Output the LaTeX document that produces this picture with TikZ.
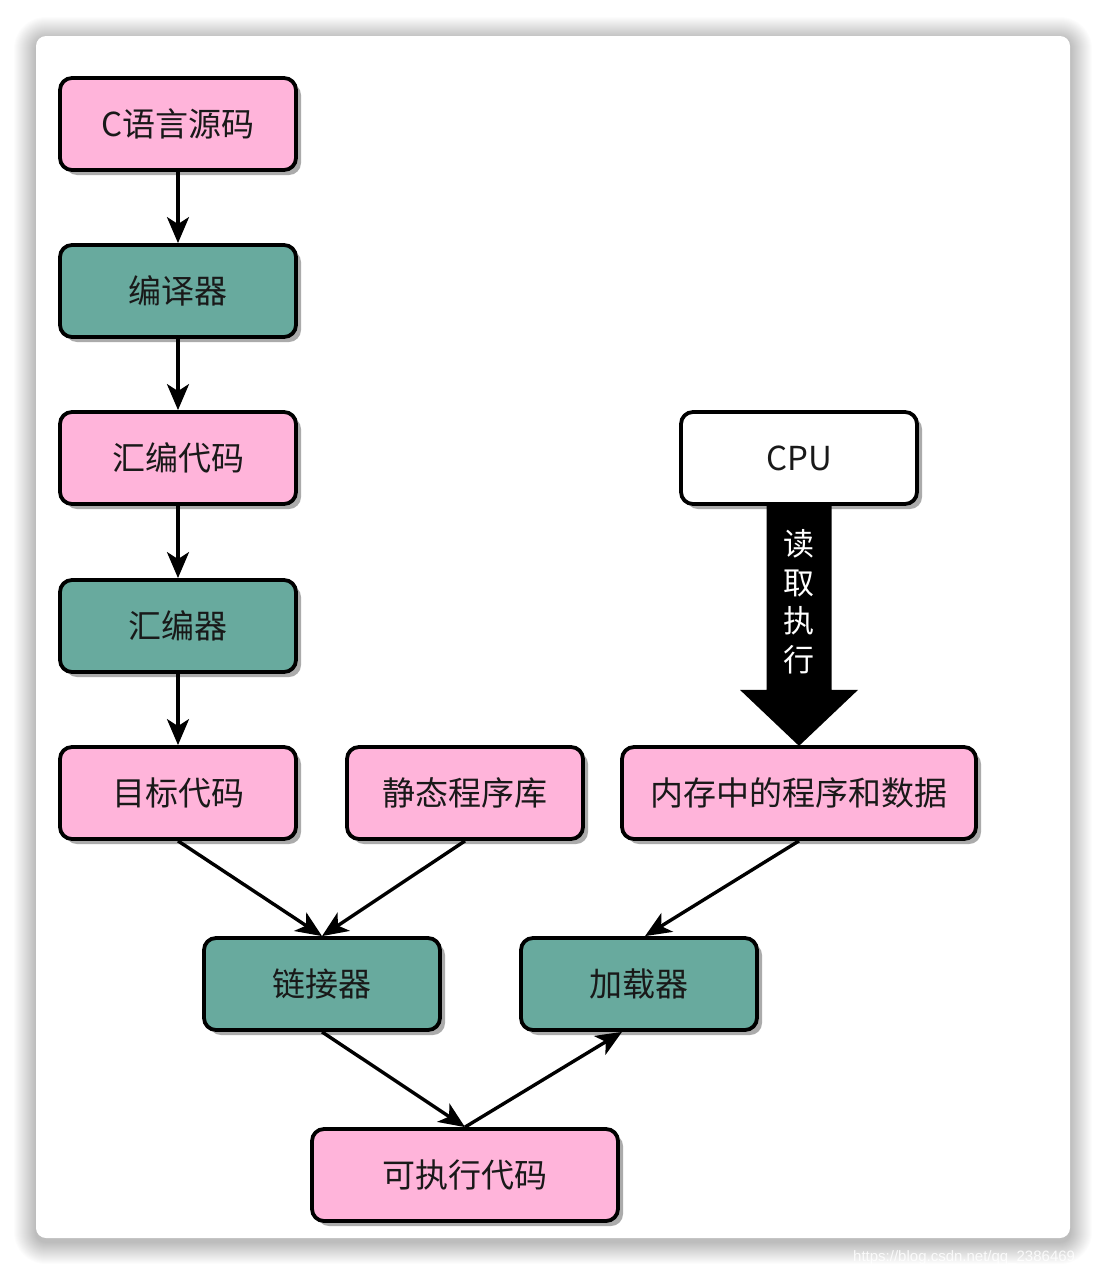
\documentclass[tikz,border=0pt]{standalone}
\usepackage{fontspec}
\setmainfont{Noto Sans CJK SC}
\newfontfamily\wmfont{Liberation Sans}
\usetikzlibrary{arrows.meta,calc,shadows}
\definecolor{pinkbox}{RGB}{255,180,218}
\definecolor{tealbox}{RGB}{104,170,158}
\definecolor{shadowgray}{RGB}{150,150,150}
\tikzset{
  box/.style={draw=black, line width=3.8pt, rounded corners=12pt,
    minimum width=236pt, minimum height=92pt, inner sep=0pt,
    font=\fontsize{33}{38}\selectfont, text=black!90,
    drop shadow={shadow xshift=5pt, shadow yshift=-5pt, fill=shadowgray, opacity=0.8}},
  pinkb/.style={box, fill=pinkbox},
  tealb/.style={box, fill=tealbox},
  whiteb/.style={box, fill=white},
  conn/.style={line width=3.4pt, -{Stealth[length=26pt,width=22pt,inset=7pt]}},
  cardshadow/.style={fill=black, opacity=0.013},
  blockarrow/.style={fill=black},
  vlabel/.style={text=white, align=center, font=\fontsize{31}{38.5}\selectfont, inner sep=0pt}
}
\begin{document}
\begin{tikzpicture}[x=1pt,y=-1pt]
\useasboundingbox (0,0) rectangle (1106,1274);
\fill[white] (0,0) rectangle (1106,1274);
\foreach \i in {1,...,22}{
  \fill[cardshadow, rounded corners={10pt+\i pt}] ({36-\i},{39-\i}) rectangle ({1070+\i},{1242+\i});
}
\node[fill=white, rounded corners=10pt, minimum width=1034pt, minimum height=1202pt, inner sep=0pt] (cardbg) at (553,637) {};
\node[font=\wmfont\fontsize{15}{18}\selectfont, text=white, opacity=0.85, anchor=base west, inner sep=0pt] (wm) at (853,1261) {https://blog.csdn.net/qq\_2386469};

% nodes
\node[pinkb] (src) at (178,124) {C语言源码};
\node[tealb] (comp) at (178,291) {编译器};
\node[pinkb] (asm) at (178,458) {汇编代码};
\node[tealb] (asmr) at (178,626) {汇编器};
\node[pinkb] (obj) at (178,793) {目标代码};
\node[pinkb] (lib) at (465,793) {静态程序库};
\node[whiteb] (cpu) at (799,458) {CPU};
\node[tealb] (link) at (322,984) {链接器};
\node[tealb] (load) at (639,984) {加载器};
\node[pinkb, minimum width=306pt] (exe) at (465,1175) {可执行代码};

% block arrow (drawn before memory box so the border overlays the tip)
\fill[blockarrow]
  ($(cpu.south)+(-32.5,-1)$) -- ($(cpu.south)+(32.5,-1)$) --
  ($(cpu.south)+(32.5,184)$) -- ($(cpu.south)+(59,184)$) --
  ($(cpu.south)+(0,240)$) coordinate (tip) --
  ($(cpu.south)+(-59,184)$) -- ($(cpu.south)+(-32.5,184)$) -- cycle;
\node[pinkb, minimum width=354pt] (mem) at (799,793) {内存中的程序和数据};
\node[vlabel] (rd) at ($(cpu.south)+(0,96)$) {读\\取\\执\\行};

% connectors
\draw[conn] (src.south) -- (comp.north);
\draw[conn] (comp.south) -- (asm.north);
\draw[conn] (asm.south) -- (asmr.north);
\draw[conn] (asmr.south) -- (obj.north);
\draw[conn] (obj.south) -- (link.north);
\draw[conn] (lib.south) -- (link.north);
\draw[conn] (mem.south) -- ($(load.north)+(6,0)$);
\draw[conn] (link.south) -- (exe.north);
\draw[conn] (exe.north) -- ($(load.south)+(-17,0)$);
\end{tikzpicture}
\end{document}
